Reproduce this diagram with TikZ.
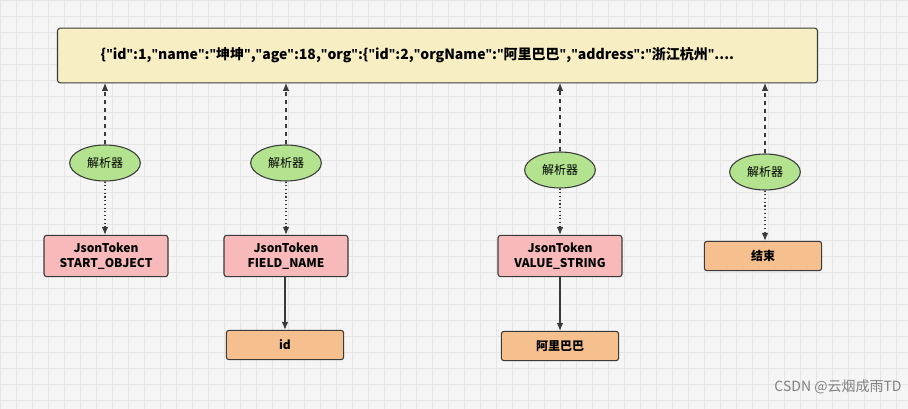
\documentclass[tikz,border=0pt]{standalone}
\usepackage{fontspec}
\setmainfont{Noto Sans CJK SC}
\newfontfamily\latinf{Open Sans}
\usetikzlibrary{shapes.geometric,arrows.meta}
\definecolor{jsonbg}{HTML}{F7EFC3}
\definecolor{parsegreen}{HTML}{B3E38F}
\definecolor{tokenred}{HTML}{F7B9B9}
\definecolor{valorange}{HTML}{F6C08E}
\definecolor{edge}{HTML}{3A3A3A}
\newcommand{\q}{{\latinf\bfseries\symbol{34}}}
\tikzset{
  tokenbox/.style={draw=edge,thick,fill=tokenred,rounded corners=2pt,minimum width=93pt,minimum height=31pt,font=\bfseries\fontsize{9}{11}\selectfont,align=center},
  valbox/.style={draw=edge,thick,fill=valorange,rounded corners=2pt,minimum width=88pt,minimum height=22pt,font=\bfseries\fontsize{9}{11}\selectfont},
  parser/.style={draw=edge,thick,fill=parsegreen,ellipse,minimum width=53pt,minimum height=27pt,inner sep=0pt,font=\fontsize{9}{11}\selectfont},
  arr/.style={-{Latex[length=6pt,width=5pt]},edge,thick}
}
\begin{document}
\begin{tikzpicture}[x=0.75pt,y=-0.75pt]
  \useasboundingbox (0,0) rectangle (908,409);
  % Background grid
  \fill[white!96!black] (0,0) rectangle (908,409);
  \draw[white!90!black,step=16*0.75pt] (0,0) grid (908,409);

  \node[draw=edge,thick,fill=jsonbg,rounded corners=2pt,minimum width=570pt,minimum height=41pt] (json) at (437.5,55.5) {};
  \node[anchor=west,font=\bfseries\fontsize{10.5}{12}\selectfont] (jtxt) at (96,55) {\{\q id\q:1,\q name\q:\q 坤坤\q,\q age\q:18,\q org\q:\{\q id\q:2,\q orgName\q:\q 阿里巴巴\q,\q address\q:\q 浙江杭州\q....};

  \coordinate (c1) at (105,83);
  \coordinate (c2) at (286,83);
  \coordinate (c3) at (560,83);
  \coordinate (c4) at (765,83);

  \node[parser] (p1) at (105,163) {解析器};
  \node[parser] (p2) at (286,163) {解析器};
  \node[parser] (p3) at (560,170) {解析器};
  \node[parser] (p4) at (765,172) {解析器};

  \node[tokenbox] (t1) at (106,256) {JsonToken\\START\_OBJECT};
  \node[tokenbox] (t2) at (286,256) {JsonToken\\FIELD\_NAME};
  \node[tokenbox] (t3) at (560,256) {JsonToken\\VALUE\_STRING};
  \node[valbox] (end) at (763,256) {结束};
  \node[valbox] (v2) at (285,345) {id};
  \node[valbox] (v3) at (560,346) {阿里巴巴};

  \draw[arr,dashed] (p1) -- (c1);
  \draw[arr,dashed] (p2) -- (c2);
  \draw[arr,dashed] (p3) -- (c3);
  \draw[arr,dashed] (p4) -- (c4);
  \draw[arr,dotted] (p1) -- (t1.north -| p1);
  \draw[arr,dotted] (p2) -- (t2);
  \draw[arr,dotted] (p3) -- (t3);
  \draw[arr,dotted] (p4) -- (end.north -| p4);
  \draw[arr] (t2.south -| v2) -- (v2);
  \draw[arr] (t3) -- (v3);

  \node[text=gray,font=\fontsize{10.5}{12}\selectfont] (mark) at (838,387) {CSDN @云烟成雨TD};
\end{tikzpicture}
\end{document}
